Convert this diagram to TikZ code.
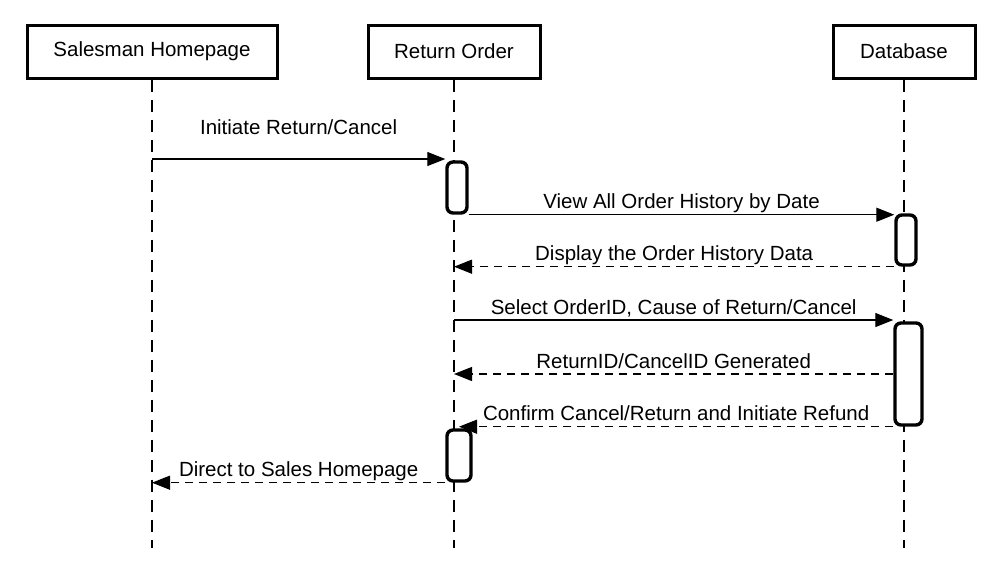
\documentclass[tikz,border=0pt]{standalone}
\usepackage{fontspec}
\setmainfont{Liberation Sans}
\usetikzlibrary{arrows.meta,positioning}
\tikzset{
  actor/.style={draw, line width=1.5pt, minimum height=26.5pt, inner sep=0pt, font=\fontsize{10.25}{12}\selectfont},
  lifeline/.style={line width=0.7pt, dash pattern=on 6pt off 4pt},
  msg/.style={-{Triangle[length=9pt,width=7pt]}, line width=0.6pt},
  reply/.style={msg, dash pattern=on 4pt off 3pt},
  act/.style={draw, fill=white, line width=1.7pt, rounded corners=3pt, inner sep=0pt, minimum width=10pt},
  lbl/.style={font=\fontsize{10.25}{12}\selectfont, anchor=base, yshift=3pt, midway}
}
\begin{document}
\begin{tikzpicture}[x=0.5pt,y=-0.5pt]
\useasboundingbox (0,0) rectangle (995,569);
% actors
\node[actor, minimum width=125pt] (sales) at (152,51.5) {Salesman Homepage};
\node[actor, minimum width=86pt] (ret) at (454,51.5) {Return Order};
\node[actor, minimum width=71pt] (db) at (904,51.5) {Database};
% lifelines
\coordinate (salesend) at (152,548); \coordinate (retend) at (454,548); \coordinate (dbend) at (904,548);
\draw[lifeline] (sales.south) -- (salesend);
\draw[lifeline] (ret.south) -- (retend);
\draw[lifeline] (db.south) -- (dbend);
% activations
\node[act, minimum height=25.5pt] (a1) at (457,187.5) {};
\node[act, minimum height=25pt] (a2) at (906,240) {};
\node[act, minimum height=51pt, minimum width=13.5pt] (a3) at (908.5,374) {};
\node[act, minimum height=25.5pt, minimum width=12pt] (a4) at (459,455.5) {};
% messages
\coordinate (m1) at (152,159); \coordinate (m4) at (454,320);
\draw[msg] (m1) -- (m1 -| a1.west) node[lbl, yshift=9.5pt]{Initiate Return/Cancel};
\draw[msg] (a1.south east) -- (a1.south east -| a2.west) node[lbl]{View All Order History by Date};
\draw[reply] (a2.south west) -- (a2.south west -| ret.south) node[lbl]{Display the Order History Data};
\draw[msg] (m4) -- (m4 -| a3.west) node[lbl]{Select OrderID, Cause of Return/Cancel};
\draw[reply] (a3.west) -- (a3.west -| ret.south) node[lbl]{ReturnID/CancelID Generated};
\draw[reply] (a3.south west) -- (a3.south west -| a4.north) node[lbl]{Confirm Cancel/Return and Initiate Refund};
\draw[reply] (a4.south west) -- (a4.south west -| sales.south) node[lbl]{Direct to Sales Homepage};
\end{tikzpicture}
\end{document}
